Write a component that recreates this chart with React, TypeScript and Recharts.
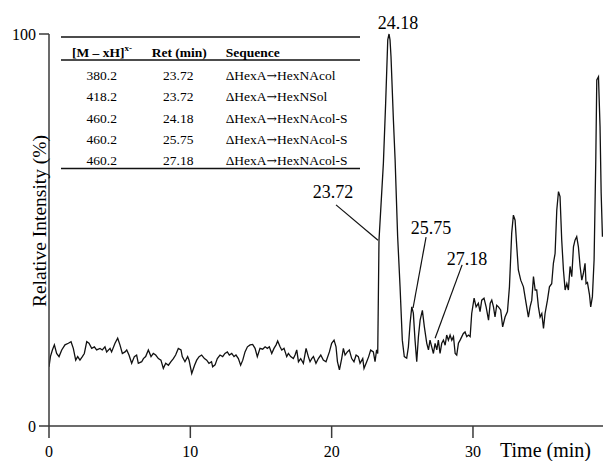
import { Line, LineChart, ReferenceDot, ReferenceLine, XAxis, YAxis } from "recharts";

const FONT = "'Liberation Serif', 'Times New Roman', serif";

// retention time (min) and relative intensity (%)
const retentionTimes = [
  0.0, 0.1, 0.24, 0.38, 0.54, 0.71, 0.9, 1.13, 1.37, 1.56, 1.72, 1.89, 2.03, 2.19, 2.36, 2.5, 2.67, 2.83,
  3.02, 3.21, 3.37, 3.61, 3.77, 3.96, 4.08, 4.32, 4.43, 4.67, 4.86, 5.02, 5.19, 5.38, 5.5, 5.66, 5.85,
  6.04, 6.2, 6.32, 6.56, 6.68, 6.84, 7.03, 7.22, 7.38, 7.55, 7.74, 7.92, 8.09, 8.26, 8.45, 8.63, 8.8,
  8.96, 9.15, 9.34, 9.43, 9.62, 9.81, 9.91, 10.1, 10.3, 10.45, 10.62, 10.8, 11.0, 11.16, 11.32, 11.5,
  11.58, 11.75, 11.91, 12.1, 12.29, 12.45, 12.62, 12.76, 12.93, 13.09, 13.23, 13.4, 13.56, 13.71, 13.87,
  14.04, 14.23, 14.41, 14.58, 14.74, 14.93, 15.12, 15.29, 15.45, 15.59, 15.76, 15.92, 16.07, 16.18,
  16.35, 16.47, 16.63, 16.82, 16.94, 17.1, 17.29, 17.41, 17.53, 17.65, 17.81, 18.0, 18.19, 18.35, 18.47,
  18.59, 18.71, 18.89, 19.06, 19.23, 19.41, 19.6, 19.84, 20.0, 20.17, 20.31, 20.41, 20.55, 20.71, 20.83,
  20.95, 21.11, 21.25, 21.42, 21.58, 21.73, 21.89, 22.01, 22.2, 22.29, 22.48, 22.62, 22.76, 22.95, 23.07,
  23.18, 23.26, 23.35, 23.66, 23.82, 23.97, 24.06, 24.13, 24.2, 24.37, 24.49, 24.67, 24.84, 25.0, 25.14,
  25.31, 25.43, 25.55, 25.67, 25.78, 25.9, 26.02, 26.14, 26.26, 26.42, 26.56, 26.73, 26.85, 26.96, 27.08,
  27.2, 27.32, 27.44, 27.55, 27.67, 27.79, 27.91, 28.03, 28.14, 28.26, 28.38, 28.5, 28.62, 28.74, 28.85,
  28.97, 29.09, 29.21, 29.32, 29.44, 29.56, 29.68, 29.8, 29.91, 30.08, 30.22, 30.38, 30.5, 30.62, 30.78,
  30.93, 31.1, 31.22, 31.33, 31.45, 31.56, 31.68, 31.8, 31.96, 32.1, 32.27, 32.44, 32.58, 32.74, 32.86,
  32.98, 33.1, 33.21, 33.38, 33.57, 33.76, 33.92, 34.04, 34.16, 34.28, 34.4, 34.51, 34.63, 34.75, 34.87,
  34.99, 35.1, 35.27, 35.41, 35.57, 35.69, 35.81, 35.93, 36.05, 36.16, 36.28, 36.4, 36.52, 36.64, 36.75,
  36.87, 36.99, 37.11, 37.22, 37.34, 37.46, 37.58, 37.7, 37.81, 37.93, 38.0, 38.1, 38.24, 38.33, 38.45,
  38.57, 38.69, 38.76, 38.88, 38.99, 39.07, 39.16,
];

const intensities = [
  15.1, 17.7, 19.4, 20.7, 18.5, 17.7, 19.4, 20.7, 21.1, 21.5, 19.8, 16.8, 17.7, 16.8, 17.7, 18.5, 21.5, 21.1,
  19.8, 20.2, 19.4, 19.8, 19.4, 20.2, 18.9, 19.8, 18.9, 21.1, 22.4, 20.7, 18.5, 18.9, 19.4, 18.1, 16.0,
  17.7, 18.1, 16.0, 16.4, 17.2, 17.7, 19.4, 17.7, 18.5, 18.1, 17.2, 16.8, 14.7, 16.0, 15.5, 16.4, 17.2,
  18.1, 19.8, 19.4, 17.7, 16.4, 17.7, 16.8, 13.4, 15.5, 16.8, 17.7, 18.1, 17.2, 16.8, 16.0, 16.4,
  15.1, 15.6, 17.2, 18.1, 17.7, 18.5, 18.9, 18.1, 18.5, 17.7, 18.1, 17.2, 15.5, 16.8, 18.9,
  20.2, 20.7, 20.8, 19.8, 17.7, 19.8, 19.6, 20.2, 19.8, 20.2, 18.5, 19.8, 20.7, 21.7,
  20.2, 19.4, 19.8, 17.7, 18.5, 17.7, 17.2, 18.1, 19.4, 16.4, 17.2, 16.0, 19.8, 17.7, 16.4,
  17.2, 17.7, 16.0, 17.2, 18.1, 16.8, 16.4, 18.9, 21.1, 21.9, 20.2, 16.4, 14.3, 17.2, 19.8,
  18.1, 18.9, 19.4, 17.2, 16.4, 18.1, 17.7, 16.0, 17.2, 14.7, 16.4, 17.7, 19.4, 18.9, 16.4,
  19.4, 18.5, 47.4, 67.0, 82.3, 98.5, 100.0, 98.5, 94.2, 78.0, 67.9, 48.3, 35.5, 21.9, 17.7,
  17.3, 20.2, 26.2, 30.4, 28.8, 21.9, 16.4, 22.8, 27.0, 29.5, 25.3, 21.1, 19.4, 21.9, 20.2,
  18.5, 21.1, 19.4, 21.9, 18.5, 21.1, 21.9, 20.6, 23.2, 21.9, 23.2, 21.9, 22.8, 18.5, 18.1,
  21.1, 21.9, 22.8, 23.6, 24.0, 22.8, 23.2, 22.8, 28.7, 32.6, 30.4, 31.3, 29.2, 32.1, 32.6,
  30.4, 27.0, 31.3, 32.1, 30.4, 27.8, 30.8, 30.4, 29.6, 25.3, 27.8, 29.2, 35.5, 49.2, 53.8,
  52.5, 45.7, 39.8, 37.2, 35.5, 31.3, 27.8, 30.4, 32.1, 38.1, 34.7, 34.7, 30.4, 27.8, 28.7,
  24.9, 28.7, 32.1, 35.5, 36.3, 41.5, 44.0, 55.1, 59.8, 58.5, 47.4, 39.8, 34.7, 36.3, 34.7,
  40.7, 38.1, 45.7, 47.4, 48.3, 45.7, 40.7, 37.2, 38.9, 41.5, 36.3, 36.6, 33.6, 30.4, 33.0,
  42.4, 67.9, 88.3, 89.1, 76.4, 59.4, 48.3,
];

const xTicks = [0, 10, 20, 30];
const yTicks = [0, 100];

// peak labels: text, label anchor (min, %), leader line from/to (min, %)
const peakLabels = ["23.72", "24.18", "25.75", "27.18"];
const labelAt = [
  [20.1, 59.9],
  [24.7, 102.8],
  [27.03, 50.5],
  [29.58, 42.6],
];
const leaders = [
  [[20.31, 56.4], [23.28, 47.4]],
  null,
  [[26.68, 48.2], [25.76, 30.1]],
  [[29.23, 41.1], [27.32, 22.4]],
];

const tableHeader = ["[M – xH]", "Ret (min)", "Sequence"];
const tableMass = ["380.2", "418.2", "460.2", "460.2", "460.2"];
const tableRet = ["23.72", "23.72", "24.18", "25.75", "27.18"];
// sequence written as [donor, acceptor], joined by an arrow
const tableSeq = [
  ["ΔHexA", "HexNAcol"],
  ["ΔHexA", "HexNSol"],
  ["ΔHexA", "HexNAcol-S"],
  ["ΔHexA", "HexNAcol-S"],
  ["ΔHexA", "HexNAcol-S"],
];

const data = retentionTimes.map((t, i) => ({ t, v: intensities[i] }));

const AXIS = "#3a3a3a";

export default function App() {
  return (
    <div style={{ position: "absolute", left: 0, top: 0, width: 603, height: 461, background: "#fff", fontFamily: FONT }}>
      <LineChart width={603} height={461} data={data} margin={{ top: 34, right: 0, bottom: 0, left: 0 }}>
        <XAxis
          dataKey="t"
          type="number"
          domain={[0, 39.2]}
          ticks={xTicks}
          allowDataOverflow
          height={35}
          tickSize={12}
          tickMargin={8}
          stroke={AXIS}
          strokeWidth={1.5}
          tick={{ fill: "#000", fontSize: 16, fontFamily: FONT }}
        />
        <YAxis
          type="number"
          domain={[0, 100]}
          ticks={yTicks}
          width={49}
          tickSize={10}
          tickMargin={3}
          stroke={AXIS}
          strokeWidth={1.5}
          tick={{ fill: "#000", fontSize: 16, fontFamily: FONT }}
        />
        <Line
          type="linear"
          dataKey="v"
          stroke="#111"
          strokeWidth={1.3}
          dot={false}
          isAnimationActive={false}
        />
        {leaders.map((seg, i) =>
          seg ? (
            <ReferenceLine
              key={`lead-${i}`}
              segment={[
                { x: seg[0][0], y: seg[0][1] },
                { x: seg[1][0], y: seg[1][1] },
              ]}
              stroke="#111"
              strokeWidth={1.2}
              ifOverflow="visible"
            />
          ) : null
        )}
        {peakLabels.map((txt, i) => (
          <ReferenceDot
            key={`lab-${i}`}
            x={labelAt[i][0]}
            y={labelAt[i][1]}
            r={0}
            fill="none"
            stroke="none"
            ifOverflow="visible"
            label={{ value: txt, position: "center", fontSize: 18, fill: "#000", fontFamily: FONT }}
          />
        ))}
      </LineChart>
      <svg width={603} height={461} style={{ position: "absolute", left: 0, top: 0, pointerEvents: "none" }}>
        <g stroke="#111" strokeWidth={1.3}>
          <line x1={61} y1={37} x2={360} y2={37} />
          <line x1={61} y1={60} x2={360} y2={60} />
          <line x1={61} y1={168.5} x2={360} y2={168.5} />
        </g>
        <g fontFamily={FONT} fill="#000">
          <text x={72} y={57} fontSize={13.5} fontWeight="bold">
            {tableHeader[0]}
            <tspan dy={-6} fontSize={9}>x-</tspan>
          </text>
          <text x={151.7} y={57} fontSize={13.5} fontWeight="bold">{tableHeader[1]}</text>
          <text x={225.7} y={57} fontSize={13.5} fontWeight="bold">{tableHeader[2]}</text>
          {tableMass.map((m, i) => (
            <g key={`row-${i}`} fontSize={13.5}>
              <text x={101.7} y={80 + i * 21.3} textAnchor="middle">{m}</text>
              <text x={178.3} y={80 + i * 21.3} textAnchor="middle">{tableRet[i]}</text>
              <text x={225.7} y={80 + i * 21.3}>
                {tableSeq[i][0]}
                <tspan fontFamily="'DejaVu Serif', serif" fontSize={12.5}>→</tspan>
                {tableSeq[i][1]}
              </text>
            </g>
          ))}
          <text x={500} y={457} fontSize={20}>Time (min)</text>
          <text
            x={0}
            y={0}
            fontSize={19.5}
            textAnchor="middle"
            transform="translate(46 221) rotate(-90)"
          >
            Relative Intensity (%)
          </text>
        </g>
      </svg>
    </div>
  );
}
